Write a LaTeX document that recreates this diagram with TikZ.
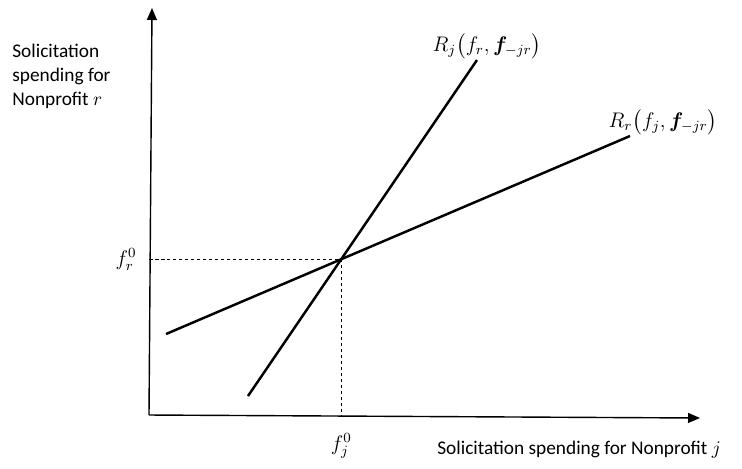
\documentclass[tikz,border=0pt]{standalone}
\usepackage{amsmath,bm}
\usepackage{fontspec}
\setmainfont{Carlito}
\usepackage{tikz}
\usetikzlibrary{positioning,arrows.meta,calc}
\tikzset{
  axis-line/.style={-{Triangle[length=2.4mm,width=2mm]},line width=0.8pt,draw=black},
  resp-line/.style={line width=1.4pt,draw=black},
  guide-line/.style={dash pattern=on 0.7mm off 0.5mm,line width=0.5pt,draw=black},
  axis-label/.style={font=\fontsize{11}{13.5}\selectfont,align=left,inner sep=0pt},
  curve-label/.style={font=\fontsize{12}{14}\selectfont,inner sep=0pt},
}

\begin{document}
\begin{tikzpicture}[x=0.02cm,y=-0.02cm]
  \useasboundingbox (0,0) rectangle (742,468);
  % axes
  \coordinate (o) at (149,415);
  \coordinate (ytip) at (152,8);
  \coordinate (xtip) at (700,418);
  \draw[axis-line] (o) -- (ytip);
  \draw[axis-line] (o) -- (xtip);
  % reaction functions
  \coordinate (rj-lo) at (248,396);
  \coordinate (rj-hi) at (477,60);
  \coordinate (rr-lo) at (166,334);
  \coordinate (rr-hi) at (630,136);
  \draw[resp-line] (rj-lo) -- (rj-hi);
  \draw[resp-line] (rr-lo) -- (rr-hi);
  \coordinate (eq) at (intersection of rj-lo--rj-hi and rr-lo--rr-hi);
  \coordinate (eq-y) at (o |- eq);
  \coordinate (eq-x) at (eq |- o);
  \draw[guide-line] (eq-y) -- (eq) -- (eq-x);
  % labels
  \node[curve-label] (rj-lbl) at (487,46) {$R_j\bigl(f_r,\bm{f}_{-jr}\bigr)$};
  \node[curve-label] (rr-lbl) at (663,122) {$R_r\bigl(f_j,\bm{f}_{-jr}\bigr)$};
  \node[curve-label,left=7pt of eq-y] (fr0) {$f_r^0$};
  \node[curve-label,below=10.5pt of eq-x] (fj0) {$f_j^0$};
  \node[axis-label,anchor=north west] (ylbl) at (12,44) {Solicitation\\spending for\\Nonprofit $r$};
  \node[axis-label,anchor=west] (xlbl) at (437,450) {Solicitation spending for Nonprofit $j$};
\end{tikzpicture}
\end{document}
